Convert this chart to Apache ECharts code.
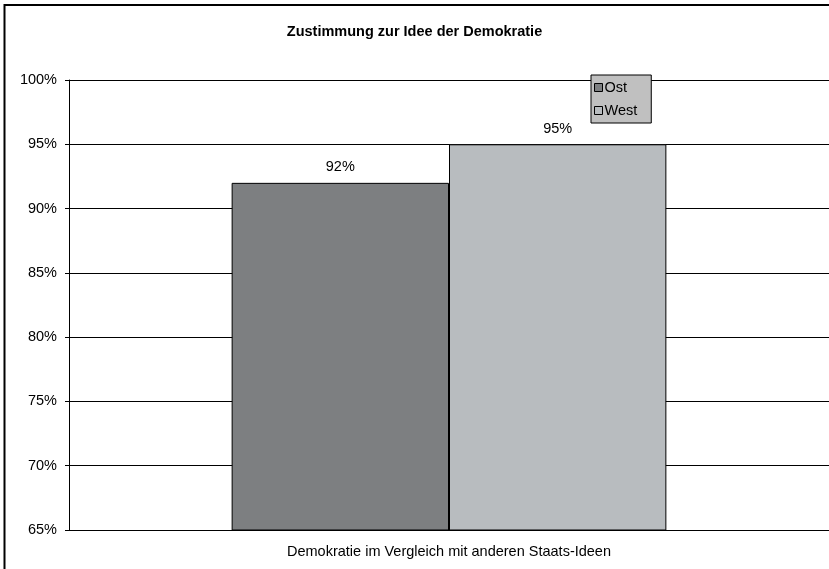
<!DOCTYPE html>
<html><head><meta charset="utf-8">
<script src="https://cdn.jsdelivr.net/npm/echarts@6/dist/echarts.min.js"></script>
<style>html,body{margin:0;padding:0;background:#fff}#c{width:829px;height:569px}</style>
</head><body><div id="c"></div>
<script>
const categories = ['Demokratie im Vergleich mit anderen Staats-Ideen'];
const seriesNames = ['Ost', 'West'];
const ostValues = [92];
const westValues = [95];
const yTicks = [65, 70, 75, 80, 85, 90, 95, 100];

const chart = echarts.init(document.getElementById('c'), null, {renderer: 'canvas'});
const font = 'Arial, "Liberation Sans", sans-serif';
const fs = 14.5;
chart.setOption({
  animation: false,
  backgroundColor: '#fff',
  title: {
    text: 'Zustimmung zur Idee der Demokratie',
    left: 'center', top: 19,
    textStyle: {fontFamily: font, fontSize: 14.5, fontWeight: 'bold', color: '#000'}
  },
  legend: {
    orient: 'vertical', left: 591, top: 75,
    backgroundColor: '#c0c0c0', borderColor: '#000', borderWidth: 1,
    padding: [5, 14, 5, 3], itemGap: 8,
    itemWidth: 8, itemHeight: 8, icon: 'rect',
    itemStyle: {borderColor: '#000', borderWidth: 1},
    textStyle: {fontFamily: font, fontSize: fs, color: '#000', padding: [0, 0, 0, -3]},
    data: seriesNames
  },
  graphic: [{
    type: 'rect', shape: {x: 4.5, y: 5, width: 840, height: 580},
    style: {fill: 'none', stroke: '#000', lineWidth: 2}, silent: true
  }],
  grid: {left: 69, right: 0, top: 80, bottom: 39, containLabel: false},
  xAxis: {
    type: 'category', data: categories,
    axisLine: {lineStyle: {color: '#000', width: 1}},
    axisTick: {show: false},
    axisLabel: {fontFamily: font, fontSize: fs, color: '#000', margin: 14}
  },
  yAxis: {
    type: 'value', min: yTicks[0], max: yTicks[yTicks.length - 1], interval: 5,
    axisLine: {show: true, lineStyle: {color: '#000', width: 1}},
    axisTick: {show: true, length: 4, lineStyle: {color: '#000'}},
    splitLine: {lineStyle: {color: '#000', width: 1}},
    axisLabel: {fontFamily: font, fontSize: fs, color: '#000', margin: 12, formatter: v => v + '%'}
  },
  series: [
    {name: seriesNames[0], type: 'bar', data: ostValues, barGap: '0%', barCategoryGap: '42.8%',
     itemStyle: {color: '#7d7f81', borderColor: '#000', borderWidth: 1},
     label: {show: true, position: 'top', distance: 8, formatter: p => p.value + '%', fontFamily: font, fontSize: fs, color: '#000'}},
    {name: seriesNames[1], type: 'bar', data: westValues,
     itemStyle: {color: '#b8bcbf', borderColor: '#000', borderWidth: 1},
     label: {show: true, position: 'top', distance: 8, formatter: p => p.value + '%', fontFamily: font, fontSize: fs, color: '#000'}}
  ]
});
</script></body></html>
